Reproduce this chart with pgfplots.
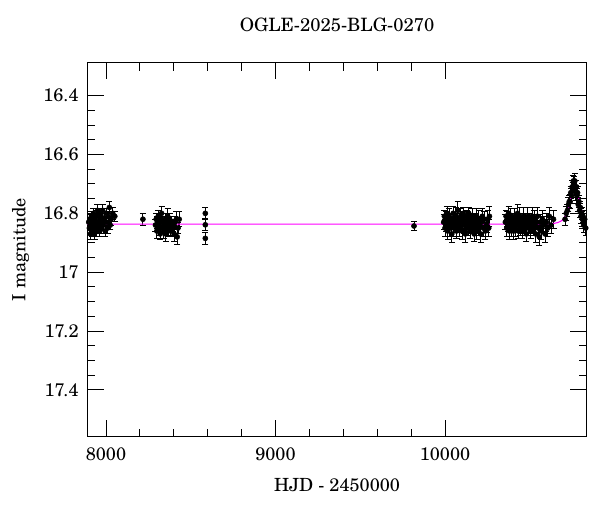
\documentclass[border=0pt]{standalone}
\usepackage{fontspec}
\setmainfont{TeX Gyre Schola}
\usepackage{pgfplots}
\usepackage{pgfplotstable}
\pgfplotsset{compat=1.18}

\pgfplotstableread{
x y e
7898 16.83 0.015
7902 16.85 0.02
7905 16.82 0.015
7908 16.87 0.02
7911 16.84 0.018
7914 16.81 0.015
7917 16.86 0.02
7920 16.83 0.02
7923 16.85 0.018
7926 16.80 0.015
7929 16.84 0.02
7932 16.87 0.02
7935 16.82 0.015
7938 16.83 0.02
7941 16.86 0.018
7944 16.81 0.02
7947 16.84 0.015
7950 16.79 0.02
7953 16.85 0.02
7956 16.83 0.018
7959 16.80 0.015
7962 16.86 0.02
7965 16.82 0.02
7968 16.84 0.015
7971 16.81 0.018
7974 16.85 0.02
7977 16.83 0.015
7980 16.79 0.02
7985 16.84 0.018
7990 16.82 0.02
7995 16.86 0.02
8000 16.80 0.018
8005 16.83 0.015
8010 16.85 0.02
8015 16.81 0.018
8020 16.78 0.02
8025 16.84 0.015
8030 16.82 0.02
8040 16.80 0.02
8052 16.81 0.018
8218 16.82 0.02
8292 16.84 0.02
8296 16.82 0.02
8300 16.86 0.025
8304 16.83 0.02
8308 16.81 0.02
8312 16.85 0.025
8316 16.84 0.02
8320 16.87 0.02
8324 16.82 0.02
8328 16.80 0.025
8332 16.85 0.02
8336 16.83 0.02
8340 16.86 0.025
8344 16.84 0.02
8348 16.82 0.02
8352 16.87 0.025
8356 16.85 0.02
8360 16.83 0.02
8364 16.81 0.025
8368 16.86 0.02
8372 16.84 0.02
8376 16.82 0.02
8380 16.85 0.025
8385 16.83 0.02
8390 16.86 0.02
8396 16.84 0.02
8402 16.87 0.025
8408 16.83 0.02
8415 16.82 0.025
8420 16.88 0.025
8425 16.85 0.02
8432 16.82 0.025
8586 16.80 0.02
8586 16.839 0.02
8586 16.885 0.02
9817 16.843 0.015
9992 16.83 0.025
9996 16.81 0.02
10000 16.85 0.03
10004 16.82 0.025
10008 16.84 0.02
10012 16.80 0.025
10016 16.86 0.03
10020 16.83 0.02
10024 16.81 0.025
10028 16.85 0.03
10032 16.82 0.02
10036 16.84 0.025
10040 16.87 0.03
10044 16.83 0.02
10048 16.80 0.025
10052 16.85 0.03
10056 16.82 0.02
10060 16.84 0.025
10064 16.81 0.03
10068 16.86 0.025
10072 16.83 0.02
10076 16.79 0.03
10080 16.84 0.025
10084 16.82 0.02
10088 16.85 0.03
10092 16.81 0.025
10096 16.83 0.02
10100 16.86 0.03
10104 16.82 0.025
10108 16.80 0.02
10112 16.84 0.03
10116 16.83 0.025
10120 16.87 0.03
10124 16.81 0.02
10128 16.84 0.025
10132 16.82 0.03
10136 16.85 0.025
10140 16.80 0.02
10144 16.83 0.03
10148 16.86 0.025
10152 16.82 0.02
10156 16.84 0.03
10160 16.81 0.025
10164 16.85 0.02
10168 16.83 0.03
10172 16.87 0.025
10176 16.82 0.02
10180 16.84 0.03
10184 16.81 0.025
10188 16.86 0.03
10192 16.83 0.02
10196 16.85 0.025
10200 16.82 0.03
10205 16.84 0.025
10210 16.87 0.03
10215 16.83 0.02
10220 16.81 0.025
10226 16.85 0.03
10232 16.82 0.025
10238 16.86 0.03
10245 16.84 0.025
10252 16.82 0.03
10258 16.85 0.03
10262 16.81 0.035
10356 16.83 0.025
10360 16.81 0.02
10364 16.85 0.03
10368 16.82 0.025
10372 16.84 0.02
10376 16.80 0.025
10380 16.86 0.03
10384 16.83 0.02
10388 16.81 0.025
10392 16.85 0.03
10396 16.82 0.02
10400 16.84 0.025
10404 16.86 0.03
10408 16.83 0.02
10412 16.81 0.025
10416 16.85 0.03
10420 16.82 0.02
10424 16.84 0.025
10428 16.80 0.03
10432 16.86 0.025
10436 16.83 0.02
10440 16.81 0.03
10444 16.85 0.025
10448 16.82 0.02
10452 16.84 0.03
10456 16.86 0.025
10460 16.83 0.02
10464 16.81 0.03
10468 16.85 0.025
10472 16.82 0.02
10476 16.84 0.03
10480 16.87 0.025
10484 16.83 0.02
10488 16.81 0.03
10492 16.85 0.025
10496 16.82 0.02
10500 16.84 0.03
10505 16.86 0.025
10510 16.83 0.02
10515 16.81 0.03
10520 16.85 0.025
10525 16.82 0.03
10530 16.84 0.025
10535 16.87 0.03
10540 16.83 0.025
10545 16.81 0.03
10550 16.85 0.025
10556 16.88 0.03
10562 16.83 0.025
10568 16.86 0.03
10575 16.82 0.03
10582 16.84 0.03
10590 16.87 0.03
10598 16.83 0.03
10606 16.85 0.03
10615 16.81 0.03
10625 16.84 0.03
10640 16.82 0.03
10708 16.82 0.02
10715 16.80 0.025
10722 16.79 0.02
10728 16.77 0.025
10733 16.76 0.02
10738 16.76 0.025
10742 16.73 0.02
10746 16.74 0.025
10750 16.71 0.02
10754 16.72 0.025
10757 16.69 0.02
10760 16.70 0.025
10763 16.72 0.02
10766 16.69 0.025
10769 16.71 0.02
10772 16.73 0.025
10775 16.71 0.02
10778 16.74 0.025
10782 16.73 0.02
10786 16.77 0.025
10790 16.76 0.02
10794 16.79 0.025
10798 16.78 0.02
10802 16.81 0.025
10806 16.80 0.02
10810 16.82 0.025
10814 16.81 0.02
10818 16.84 0.025
10824 16.82 0.02
10830 16.85 0.025
}\obsdata

\pgfplotstableread{
x y
7880 16.837
10565 16.8365
10615 16.8356
10645 16.8339
10665 16.8314
10685 16.8261
10695 16.8214
10705 16.8142
10715 16.8033
10720 16.7961
10725 16.7875
10730 16.7774
10735 16.7659
10740 16.7534
10745 16.7405
10750 16.7284
10755 16.7182
10760 16.7114
10765 16.7090
10770 16.7114
10775 16.7182
10780 16.7284
10785 16.7405
10790 16.7534
10795 16.7659
10800 16.7774
10805 16.7875
10810 16.7961
10815 16.8033
10825 16.8142
10835 16.8214
10845 16.8261
}\modeldata

\begin{document}
\begin{tikzpicture}
\useasboundingbox (0,0) rectangle (450pt,384pt);
\begin{axis}[
  at={(65.5pt,56.5pt)}, anchor=south west,
  scale only axis, width=374.55pt, height=280.5pt,
  xmin=7890, xmax=10836,
  ymin=16.288, ymax=17.559,
  y dir=reverse,
  axis line style={line width=0.8pt},
  xtick={8000,9000,10000},
  xticklabels={8000,9000,10000},
  scaled x ticks=false,
  minor x tick num=4,
  ytick={16.4,16.6,16.8,17,17.2,17.4},
  yticklabels={16.4,16.6,16.8,17,17.2,17.4},
  minor y tick num=3,
  tick align=inside,
  xtick pos=both, ytick pos=both,
  major tick length=12.5pt,
  minor tick length=6pt,
  tick style={line width=0.7pt, black},
  /pgf/number format/assume math mode=true,
  tick label style={font=\fontsize{13.6}{16}\selectfont},
  xticklabel style={yshift=-5pt},
  yticklabel style={xshift=-3pt},
  label style={font=\fontsize{13.6}{16}\selectfont},
  xlabel={HJD - 2450000},
  ylabel={I magnitude},
  xlabel style={at={(axis description cs:0.5,-0.129)}, anchor=center},
  ylabel style={at={(axis description cs:-0.134,0.5)}, anchor=center},
  title={OGLE-2025-BLG-0270},
  title style={font=\fontsize{13.8}{16}\selectfont, at={(axis description cs:0.5,1.079)}, anchor=center},
]
\addplot[only marks, mark=*, mark size=1.9pt, black,
  error bars/.cd, y dir=both, y explicit,
  error bar style={line width=0.7pt, black},
  error mark options={black, line width=0.7pt, mark size=2.3pt, rotate=90}]
  table[x=x, y=y, y error=e]{\obsdata};
\addplot[no marks, line width=0.8pt, color={rgb,255:red,255;green,0;blue,255}] table[x=x, y=y]{\modeldata};
\end{axis}
\end{tikzpicture}
\end{document}
